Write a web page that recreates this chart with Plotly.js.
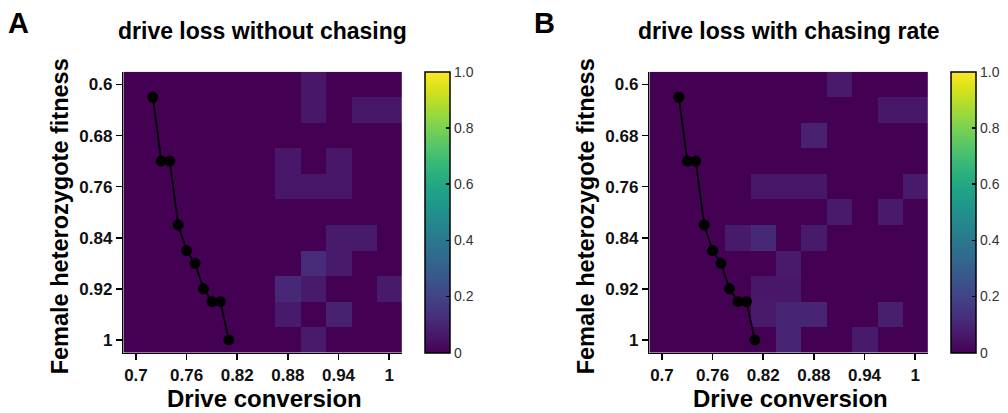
<!DOCTYPE html>
<html>
<head>
<meta charset="utf-8">
<script src="https://cdn.plot.ly/plotly-3.0.1.min.js"></script>
<style>
  html, body { margin: 0; padding: 0; background: #ffffff; }
  #chart { width: 1008px; height: 413px; }
</style>
</head>
<body>
<div id="chart"></div>
<script>
// Grid of parameter values (heatmap columns / rows)
const driveConversion = [0.70, 0.73, 0.76, 0.79, 0.82, 0.85, 0.88, 0.91, 0.94, 0.97, 1.00];
const femaleFitness   = [0.60, 0.64, 0.68, 0.72, 0.76, 0.80, 0.84, 0.88, 0.92, 0.96, 1.00];

// Drive loss rate, rows follow femaleFitness, columns follow driveConversion
const lossWithoutChasing = [
  [0, 0, 0, 0, 0, 0, 0,    0.06, 0,    0,    0   ],
  [0, 0, 0, 0, 0, 0, 0,    0.06, 0,    0.06, 0.06],
  [0, 0, 0, 0, 0, 0, 0,    0,    0,    0,    0   ],
  [0, 0, 0, 0, 0, 0, 0.06, 0,    0.06, 0,    0   ],
  [0, 0, 0, 0, 0, 0, 0.06, 0.06, 0.06, 0,    0   ],
  [0, 0, 0, 0, 0, 0, 0,    0,    0,    0,    0   ],
  [0, 0, 0, 0, 0, 0, 0,    0,    0.07, 0.07, 0   ],
  [0, 0, 0, 0, 0, 0, 0,    0.12, 0.07, 0,    0   ],
  [0, 0, 0, 0, 0, 0, 0.11, 0.07, 0,    0,    0.07],
  [0, 0, 0, 0, 0, 0, 0.07, 0,    0.09, 0,    0   ],
  [0, 0, 0, 0, 0, 0, 0,    0.07, 0,    0,    0   ]
];

const lossWithChasing = [
  [0, 0, 0, 0,    0,    0,    0,    0.07, 0,    0,    0   ],
  [0, 0, 0, 0,    0,    0,    0,    0,    0,    0.06, 0.06],
  [0, 0, 0, 0,    0,    0,    0.09, 0,    0,    0,    0   ],
  [0, 0, 0, 0,    0,    0,    0,    0,    0,    0,    0   ],
  [0, 0, 0, 0,    0.06, 0.06, 0.06, 0,    0,    0,    0.07],
  [0, 0, 0, 0,    0,    0,    0,    0.07, 0,    0.07, 0   ],
  [0, 0, 0, 0.07, 0.11, 0,    0.07, 0,    0,    0,    0   ],
  [0, 0, 0, 0,    0,    0.07, 0,    0,    0,    0,    0   ],
  [0, 0, 0, 0,    0.06, 0.06, 0,    0,    0,    0,    0   ],
  [0, 0, 0, 0,    0.07, 0.10, 0.10, 0,    0,    0.08, 0   ],
  [0, 0, 0, 0,    0,    0.10, 0,    0,    0.07, 0,    0   ]
];

// Threshold curve overlaid on both panels
const thresholdConversion = [0.72, 0.73, 0.74, 0.75, 0.76, 0.77, 0.78, 0.79, 0.80, 0.81];
const thresholdFitness    = [0.62, 0.72, 0.72, 0.82, 0.86, 0.88, 0.92, 0.94, 0.94, 1.00];

// Axis ticks
const xTickVals = [0.70, 0.76, 0.82, 0.88, 0.94, 1.00];
const xTickText = ['0.7', '0.76', '0.82', '0.88', '0.94', '1'];
const yTickVals = [0.60, 0.68, 0.76, 0.84, 0.92, 1.00];
const yTickText = ['0.6', '0.68', '0.76', '0.84', '0.92', '1'];
const cbTickVals = [0, 0.2, 0.4, 0.6, 0.8, 1.0];
const cbTickText = ['0', '0.2', '0.4', '0.6', '0.8', '1.0'];

const panelTitles = ['drive loss without chasing', 'drive loss with chasing rate'];
const panelLetters = ['A', 'B'];

// ---- layout geometry (pixels) ----
const W = 1008, H = 413;
const plotTop = 71.7, plotBottom = 352.7;
const panelLeft = [123.3, 649.3];
const panelWidth = 278.5;
const cbLeft = [425, 950.7];
const cbThick = 25;

const FONT = 'Liberation Sans, Arial, Helvetica, sans-serif';
const px = v => v / W;
const py = v => 1 - v / H;

const yDomain = [py(plotBottom), py(plotTop)];
const cbLen = (plotBottom - plotTop) / H;

function heat(z, i) {
  return {
    type: 'heatmap',
    x: driveConversion,
    y: femaleFitness,
    z: z,
    xaxis: i === 0 ? 'x' : 'x2',
    yaxis: i === 0 ? 'y' : 'y2',
    colorscale: 'Viridis',
    zmin: 0, zmax: 1,
    hoverinfo: 'skip',
    colorbar: {
      x: px(cbLeft[i]), xanchor: 'left',
      y: py(plotTop), yanchor: 'top',
      len: cbLen, lenmode: 'fraction',
      thickness: cbThick, thicknessmode: 'pixels',
      xpad: 0, ypad: 0,
      outlinewidth: 1.5, outlinecolor: '#000',
      ticks: 'inside', ticklen: 4, tickwidth: 1.5, tickcolor: '#000',
      tickvals: cbTickVals, ticktext: cbTickText,
      tickfont: { family: FONT, size: 14, color: '#333' }
    }
  };
}

function curve(i) {
  return {
    type: 'scatter', mode: 'lines+markers',
    x: thresholdConversion, y: thresholdFitness,
    xaxis: i === 0 ? 'x' : 'x2',
    yaxis: i === 0 ? 'y' : 'y2',
    line: { color: '#000', width: 1.8 },
    marker: { color: '#000', size: 11 },
    hoverinfo: 'skip', showlegend: false
  };
}

function xAxis(i) {
  return {
    domain: [px(panelLeft[i]), px(panelLeft[i] + panelWidth)],
    anchor: i === 0 ? 'y' : 'y2',
    range: [0.685, 1.015],
    tickvals: xTickVals, ticktext: xTickText,
    ticks: 'outside', ticklen: 6, tickwidth: 1.5, tickcolor: '#000',
    showline: true, linecolor: '#000', linewidth: 1.5,
    showgrid: false, zeroline: false,
    tickfont: { family: FONT, size: 17, color: '#111', weight: 'bold' },
    fixedrange: true
  };
}

function yAxis(i) {
  return {
    domain: yDomain,
    anchor: i === 0 ? 'x' : 'x2',
    range: [1.02, 0.58],
    tickvals: yTickVals, ticktext: yTickText,
    ticks: 'outside', ticklen: 6, tickwidth: 1.5, tickcolor: '#000',
    showline: true, linecolor: '#000', linewidth: 1.5,
    showgrid: false, zeroline: false,
    tickfont: { family: FONT, size: 17, color: '#111', weight: 'bold' },
    fixedrange: true
  };
}

const annotations = [];
const shapes = [];
for (let i = 0; i < 2; i++) {
  const cx = panelLeft[i] + panelWidth / 2;
  annotations.push(
    { text: panelLetters[i], xref: 'paper', yref: 'paper',
      x: px(panelLeft[i] - 117), y: py(23), xanchor: 'left', yanchor: 'middle',
      showarrow: false, font: { family: FONT, size: 29, color: '#000', weight: 'bold' } },
    { text: panelTitles[i], xref: 'paper', yref: 'paper',
      x: px(cx), y: py(31), xanchor: 'center', yanchor: 'middle',
      showarrow: false, font: { family: FONT, size: 23, color: '#000', weight: 'bold' } },
    { text: 'Drive conversion', xref: 'paper', yref: 'paper',
      x: px(cx + 2), y: py(398), xanchor: 'center', yanchor: 'middle',
      showarrow: false, font: { family: FONT, size: 24, color: '#000', weight: 'bold' } },
    { text: 'Female heterozygote fitness', xref: 'paper', yref: 'paper', textangle: -90,
      x: px(panelLeft[i] - 63), y: py(216), xanchor: 'center', yanchor: 'middle',
      showarrow: false, font: { family: FONT, size: 23.5, color: '#000', weight: 'bold' } }
  );
  // inward tick marks on the left edge of each colour bar
  cbTickVals.forEach(v => {
    const yy = plotBottom - v * (plotBottom - plotTop);
    if (v > 0 && v < 1) {
      shapes.push({ type: 'line', xref: 'paper', yref: 'paper',
        x0: px(cbLeft[i]), x1: px(cbLeft[i] + 4), y0: py(yy), y1: py(yy),
        line: { color: '#000', width: 1.5 } });
    }
  });
}

const data = [
  heat(lossWithoutChasing, 0), curve(0),
  heat(lossWithChasing, 1), curve(1)
];

const layout = {
  width: W, height: H,
  margin: { l: 0, r: 0, t: 0, b: 0 },
  paper_bgcolor: '#fff', plot_bgcolor: '#fff',
  showlegend: false,
  font: { family: FONT, color: '#000' },
  xaxis: xAxis(0), yaxis: yAxis(0),
  xaxis2: xAxis(1), yaxis2: yAxis(1),
  annotations: annotations,
  shapes: shapes
};

Plotly.newPlot('chart', data, layout, { displayModeBar: false, staticPlot: true });
</script>
</body>
</html>
